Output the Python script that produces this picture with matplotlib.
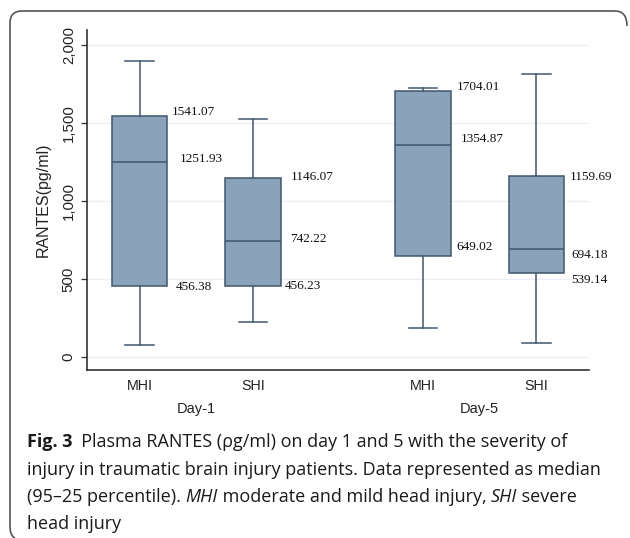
import numpy as np
import matplotlib
matplotlib.use("Agg")
import matplotlib.pyplot as plt
from matplotlib.path import Path
from matplotlib.patches import PathPatch

# data
groups = ["MHI", "SHI", "MHI", "SHI"]
days = ["Day-1", "Day-5"]
whisker_lo = [79, 224, 184, 86]
q1 = [456.38, 456.23, 649.02, 539.14]
med = [1251.93, 742.22, 1354.87, 694.18]
q3 = [1541.07, 1146.07, 1704.01, 1159.69]
whisker_hi = [1895, 1524, 1720, 1812]
yticks = [0, 500, 1000, 1500, 2000]

positions = [1, 2, 3.5, 4.5]
box_w = 0.49
fill = "#8ba2bb"
edge = "#3f566d"

# offsets of value labels (points): (dx from box right edge, dy)
lab_off = [
    [(3, 3.5), (9, 1.7), (6, -1.0)],
    [(7, 0.7), (7, 1.5), (3, 0)],
    [(4, 3.0), (7, 4.3), (4, 6.5)],
    [(4, -0.7), (5, -4.3), (5, -5.0)],
]

fig = plt.figure(figsize=(6.3, 5.38), dpi=100)
ax = fig.add_axes([0.138, 0.312, 0.797, 0.632])

stats = []
for i in range(len(groups)):
    stats.append(dict(whislo=whisker_lo[i], q1=q1[i], med=med[i],
                      q3=q3[i], whishi=whisker_hi[i], fliers=[]))

ax.bxp(stats, positions=positions, widths=box_w, capwidths=0.25,
       patch_artist=True, showfliers=False,
       boxprops=dict(facecolor=fill, edgecolor=edge, linewidth=1.1),
       medianprops=dict(color=edge, linewidth=1.1),
       whiskerprops=dict(color=edge, linewidth=1.1),
       capprops=dict(color=edge, linewidth=1.1))

# value labels
for i, p in enumerate(positions):
    for j, v in enumerate([q3[i], med[i], q1[i]]):
        dx, dy = lab_off[i][j]
        ax.annotate(f"{v:.2f}", xy=(p + box_w / 2, v), xytext=(dx, dy),
                    textcoords="offset points", ha="left", va="center",
                    fontsize=9.5, family="Liberation Serif", color="#111")

ax.set_xlim(0.535, 4.965)
ax.set_ylim(-85, 2094)
ax.set_xticks(positions)
ax.set_xticklabels(groups, family="Liberation Sans", fontsize=10.3, color="#222")
ax.tick_params(axis="x", length=0, pad=6.5)
ax.set_yticks(yticks)
ax.set_yticklabels([f"{t:,}" for t in yticks], family="Liberation Sans",
                   fontsize=10.8, color="#222", rotation=90, va="center")
ax.tick_params(axis="y", length=4, width=0.9, color="#333", pad=4)
ax.yaxis.grid(True, color="#eceef1", linewidth=0.9)
ax.set_axisbelow(True)
for s in ["top", "right"]:
    ax.spines[s].set_visible(False)
for s in ["left", "bottom"]:
    ax.spines[s].set_color("#333")
    ax.spines[s].set_linewidth(1.2)

ax.set_ylabel("RANTES(pg/ml)", family="Liberation Sans", fontsize=11.5,
              color="#222", labelpad=8)

# day labels under each pair
for k, d in enumerate(days):
    xc = np.mean(positions[2 * k:2 * k + 2])
    ax.text(xc, -0.113, d, transform=ax.get_xaxis_transform(), ha="center",
            va="center", family="Liberation Sans", fontsize=10.5, color="#222")

# frame around figure (top and left edge, rounded corners)
W, H = 630.0, 538.0
pts = [(627, 26), (627, 11), (615, 11), (22, 11), (10, 11), (10, 23),
       (10, 526), (10, 536), (15, 538)]
codes = [Path.MOVETO, Path.CURVE3, Path.CURVE3, Path.LINETO, Path.CURVE3,
         Path.CURVE3, Path.LINETO, Path.CURVE3, Path.CURVE3]
verts = [(x / W, 1 - y / H) for x, y in pts]
fig.patches.append(PathPatch(Path(verts, codes), transform=fig.transFigure,
                             fill=False, edgecolor="#555", linewidth=1.2))

# caption with mixed font styles
cap_font = "Open Sans"
cap_size = 13.0
caption = [
    [("Fig. 3", "bold", "normal"),
     ("  Plasma RANTES (\u03c1g/ml) on day 1 and 5 with the severity of", "normal", "normal")],
    [("injury in traumatic brain injury patients. Data represented as median", "normal", "normal")],
    [("(95\u201325 percentile). ", "normal", "normal"), ("MHI", "normal", "italic"),
     (" moderate and mild head injury, ", "normal", "normal"), ("SHI", "normal", "italic"),
     (" severe", "normal", "normal")],
    [("head injury", "normal", "normal")],
]
baselines = [447, 475, 502, 529]
renderer = fig.canvas.get_renderer()
for line, yb in zip(caption, baselines):
    x = 27.0
    for txt, weight, style in line:
        t = fig.text(x / W, 1 - yb / H, txt, family=cap_font, fontsize=cap_size,
                     weight=weight, style=style, va="baseline", ha="left",
                     color="#1a1a1a")
        x += t.get_window_extent(renderer).width

fig.savefig("out.png", dpi=100)
